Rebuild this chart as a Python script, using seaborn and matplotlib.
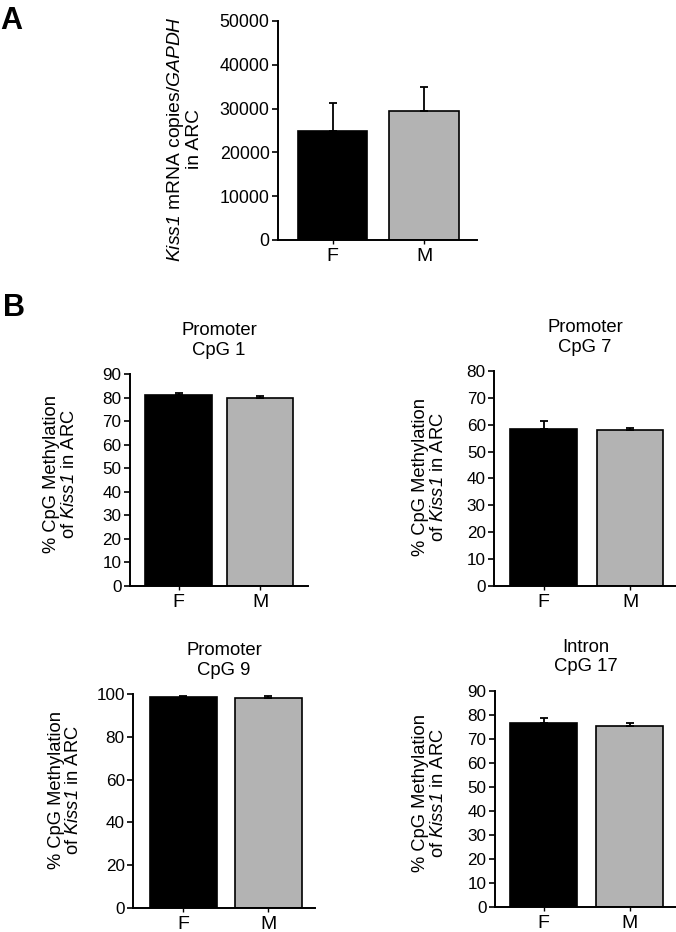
import matplotlib.pyplot as plt
import numpy as np
import pandas as pd
import seaborn as sns

# data (mean, upper error bar = SEM)
sexes = ["F", "M"]
bar_colors = ["#000000", "#b3b3b3"]

kiss1_mrna = [24900, 29500]
kiss1_mrna_sem = [6300, 5400]

cpg_titles = ["Promoter\nCpG 1", "Promoter\nCpG 7", "Promoter\nCpG 9", "Intron\nCpG 17"]
cpg1 = [81.2, 79.7]
cpg1_sem = [0.7, 0.9]
cpg7 = [58.4, 57.9]
cpg7_sem = [2.8, 0.7]
cpg9 = [98.9, 98.1]
cpg9_sem = [0.4, 0.9]
cpg17 = [76.4, 75.3]
cpg17_sem = [2.2, 1.4]

cpg_ylims = [90, 80, 100, 90]
cpg_ysteps = [10, 10, 20, 10]

sns.set_style("ticks")
plt.rcParams['font.family'] = ['Liberation Sans', 'DejaVu Sans']
# italic gene names go through \mathrm, mapped to the italic face so digits stay italic
plt.rcParams['mathtext.fontset'] = 'custom'
plt.rcParams['mathtext.rm'] = 'Liberation Sans:italic'
plt.rcParams['mathtext.it'] = 'Liberation Sans:italic'
plt.rcParams['axes.linewidth'] = 1.4
for k in ['text.color', 'axes.labelcolor', 'xtick.color', 'ytick.color', 'axes.edgecolor']:
    plt.rcParams[k] = 'black'


def bar_panel(ax, means, sems, ymax, ystep, width, xlim, tick_fs, lab_fs):
    df = pd.DataFrame({'sex': sexes, 'value': means})
    sns.barplot(data=df, x='sex', y='value', hue='sex', palette=bar_colors,
                width=width, edgecolor='black', linewidth=1.2,
                errorbar=None, legend=False, ax=ax)
    ax.errorbar(x=[0, 1], y=means, yerr=[[0, 0], sems], fmt='none',
                ecolor='black', elinewidth=1.3, capsize=3, capthick=1.3)
    ax.set_ylim(0, ymax)
    ax.set_yticks(np.arange(0, ymax + 1, ystep))
    ax.set_xlim(*xlim)
    ax.set_xlabel("")
    sns.despine(ax=ax)
    ax.tick_params(axis='y', direction='out', length=4, width=1.2,
                   labelsize=tick_fs, pad=2)
    ax.tick_params(axis='x', direction='out', length=3, width=1.0,
                   labelsize=lab_fs, pad=3)


fig = plt.figure(figsize=(6.76, 9.32), dpi=100)

# Panel A
axA = fig.add_axes([0.411, 0.7425, 0.295, 0.235])
bar_panel(axA, kiss1_mrna, kiss1_mrna_sem, 50000, 10000, 0.76,
          (-0.6, 1.58), 12.8, 14)
axA.set_ylabel("$\\mathrm{Kiss1}$ mRNA copies/$\\mathrm{GAPDH}$\nin ARC",
               fontsize=13.9, linespacing=1.0)
axA.yaxis.set_label_coords(-0.375, 0.46)

# Panel B
rects = [[0.192, 0.3716, 0.264, 0.2268],
         [0.731, 0.3716, 0.269, 0.2303],
         [0.197, 0.0261, 0.269, 0.2290],
         [0.732, 0.0272, 0.268, 0.2317]]
widths = [0.815, 0.77, 0.79, 0.78]
xlims = [(-0.6, 1.59), (-0.57, 1.53), (-0.59, 1.55), (-0.57, 1.54)]
label_xy = [(-0.29, 0.526), (-0.26, 0.508), (-0.28, 0.55), (-0.265, 0.524)]
means_all = [cpg1, cpg7, cpg9, cpg17]
sems_all = [cpg1_sem, cpg7_sem, cpg9_sem, cpg17_sem]

for i in range(4):
    ax = fig.add_axes(rects[i])
    bar_panel(ax, means_all[i], sems_all[i], cpg_ylims[i], cpg_ysteps[i],
              widths[i], xlims[i], 12.3, 14)
    ax.set_ylabel("% CpG Methylation\nof $\\mathrm{Kiss1}$ in ARC",
                  fontsize=13.2, linespacing=1.05)
    ax.yaxis.set_label_coords(*label_xy[i])
    ax.set_title(cpg_titles[i], fontsize=13.3, pad=14, linespacing=1.2)

fig.text(0.0, 0.994, "A", fontsize=22, fontweight='bold', va='top', ha='left')
fig.text(0.004, 0.686, "B", fontsize=22, fontweight='bold', va='top', ha='left')

fig.savefig("out.png", dpi=100)
